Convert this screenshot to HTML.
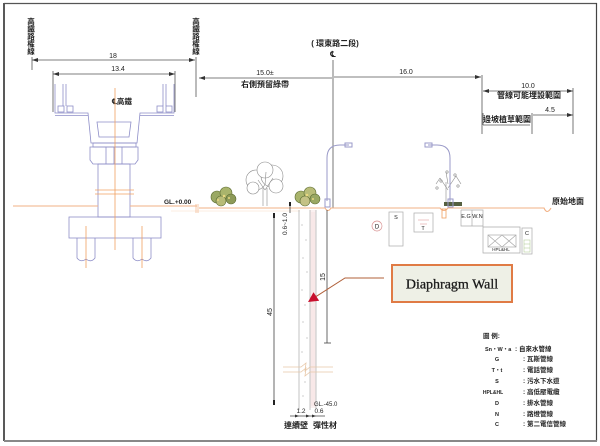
<!DOCTYPE html>
<html><head><meta charset="utf-8"><style>
html,body{margin:0;padding:0;background:#fff;}
svg{display:block;}
text{font-family:"Liberation Sans","Noto Sans CJK TC",sans-serif;fill:#222;}
.cj{font-family:"Liberation Sans","Noto Sans CJK TC",sans-serif;font-weight:bold;}
</style></head><body>
<svg width="600" height="446" viewBox="0 0 600 446" xmlns="http://www.w3.org/2000/svg">
<defs>
<marker id="ar" viewBox="0 0 6 4" refX="6" refY="2" markerWidth="6" markerHeight="4" markerUnits="userSpaceOnUse" orient="auto-start-reverse"><path d="M0,0 L6,2 L0,4 z" fill="#333"/></marker>
</defs>
<rect width="600" height="446" fill="#fff"/>
<!-- frame -->
<line x1="4" y1="3" x2="4" y2="441" stroke="#222" stroke-width="1.5"/>
<line x1="4" y1="3.5" x2="597" y2="3.5" stroke="#555" stroke-width="1.2"/>
<line x1="596.5" y1="3" x2="596.5" y2="441" stroke="#444" stroke-width="1.2"/>
<line x1="4" y1="441" x2="597" y2="441" stroke="#888" stroke-width="2"/>

<!-- vertical labels -->
<g class="cj" font-size="7.5" text-anchor="middle">
<text x="31" y="24">高</text><text x="31" y="31.5">鐵</text><text x="31" y="39">路</text><text x="31" y="46.5">權</text><text x="31" y="54">線</text>
<text x="196" y="24">高</text><text x="196" y="31.5">鐵</text><text x="196" y="39">路</text><text x="196" y="46.5">權</text><text x="196" y="54">線</text>
</g>

<!-- dims left -->
<g stroke="#555" stroke-width="0.8" fill="none">
<line x1="32" y1="57" x2="32" y2="70"/>
<line x1="196" y1="57" x2="196" y2="97"/>
<line x1="32" y1="60" x2="195" y2="60" marker-start="url(#ar)" marker-end="url(#ar)"/>
<line x1="53" y1="71" x2="53" y2="112"/>
<line x1="175" y1="71" x2="175" y2="112"/>
<line x1="53" y1="74" x2="175" y2="74" marker-start="url(#ar)" marker-end="url(#ar)"/>
<line x1="199" y1="78" x2="332" y2="78" marker-start="url(#ar)"/>
<line x1="333" y1="60" x2="333" y2="208"/>
<line x1="334" y1="77" x2="481" y2="77" marker-end="url(#ar)"/>
<line x1="482" y1="75" x2="482" y2="134"/>
<line x1="483" y1="91" x2="573" y2="91" marker-start="url(#ar)" marker-end="url(#ar)"/>
<line x1="573" y1="88" x2="573" y2="134"/>
<line x1="532" y1="113" x2="532" y2="134"/>
<line x1="533" y1="115" x2="573" y2="115" marker-end="url(#ar)"/>
<line x1="483" y1="113" x2="483" y2="125"/>
<line x1="483" y1="125" x2="530" y2="125"/>
</g>
<g font-size="7" text-anchor="middle">
<text x="113" y="58">18</text>
<text x="118" y="71">13.4</text>
<text x="265" y="75">15.0±</text>
<text x="406" y="74">16.0</text>
<text x="528" y="88">10.0</text>
<text x="550" y="112">4.5</text>
</g>
<g class="cj" font-size="8" text-anchor="middle">
<text x="265" y="87">右側預留綠帶</text>
<text x="529" y="98">管線可能埋設範圍</text>
<text x="507" y="122">邊坡植草範圍</text>
<text x="335" y="46">( 環東路二段)</text>
<text x="333" y="57" font-size="8">℄</text>
<text x="122" y="104" font-size="7.5">℄高鐵</text>
<text x="568" y="204">原始地面</text>
</g>

<!-- bridge -->
<g stroke="#8e8ec8" stroke-width="0.8" fill="none">
<path d="M55 84 V113 H88 L91 143 H137 L140 113 H174 V84"/>
<line x1="55" y1="115.5" x2="88" y2="115.5"/>
<line x1="140" y1="115.5" x2="174" y2="115.5"/>
<line x1="63" y1="84" x2="63" y2="106"/><line x1="66" y1="84" x2="66" y2="106"/>
<line x1="163" y1="84" x2="163" y2="106"/><line x1="166" y1="84" x2="166" y2="106"/>
<rect x="58" y="106" width="6" height="6"/><rect x="67" y="106" width="6" height="6"/>
<rect x="157" y="106" width="6" height="6"/><rect x="166" y="106" width="6" height="6"/>
<path d="M97 122 H131 L129 137 H99 Z"/>
<rect x="93" y="143" width="43" height="4"/>
<path d="M90 147 H138 V160 L135 164 H93 L90 160 Z"/>
<line x1="106" y1="147" x2="106" y2="164"/><line x1="114" y1="147" x2="114" y2="164"/><line x1="122" y1="147" x2="122" y2="164"/>
<rect x="98" y="164" width="32" height="53"/>
<rect x="69" y="217" width="92" height="21"/>
<path d="M77 238 V258 Q81 263 86 259 Q91 263 95 258 V238"/>
<path d="M133 238 V258 Q137 263 142 259 Q147 263 151 258 V238"/>
</g>
<g stroke="#f0a060" stroke-width="0.8" fill="none">
<line x1="115" y1="88" x2="115" y2="250"/>
<line x1="95" y1="190" x2="134" y2="190"/>
<line x1="95" y1="194" x2="134" y2="194"/>
<line x1="86" y1="226" x2="86" y2="268"/>
<line x1="142" y1="226" x2="142" y2="268"/>
</g>

<!-- ground -->
<g stroke="#f2b286" stroke-width="1.1" fill="none">
<line x1="13" y1="206" x2="98" y2="206"/>
<line x1="130" y1="206" x2="197" y2="206"/>
<path d="M199 208 H325 Q328 213 331 208 H440 Q444 213 448 208 H544 Q547 215 551 208"/>
<line x1="171" y1="211" x2="300" y2="211" stroke="#f8dcc4" stroke-width="0.5"/>
<line x1="196" y1="204" x2="196" y2="213" stroke-width="0.7"/>
<line x1="198" y1="204" x2="198" y2="213" stroke-width="0.7"/>
</g>
<text x="164" y="204" font-size="6.5" font-weight="bold">GL.+0.00</text>

<!-- trees -->
<g stroke="#5a6a30" stroke-width="0.6">
<circle cx="217" cy="197" r="6" fill="#9aa864"/>
<circle cx="226" cy="193" r="6" fill="#a9b46c"/>
<circle cx="231" cy="199" r="5" fill="#8d9a58"/>
<circle cx="221" cy="201" r="5" fill="#b8bc78"/>
<circle cx="301" cy="197" r="6" fill="#a9b46c"/>
<circle cx="310" cy="193" r="6" fill="#b8bc78"/>
<circle cx="315" cy="199" r="5" fill="#9aa864"/>
<circle cx="305" cy="201" r="5" fill="#c4c286"/>
</g>
<g fill="#e8d880"><circle cx="224" cy="196" r="1.3"/><circle cx="218" cy="200" r="1"/><circle cx="229" cy="198" r="1"/><circle cx="307" cy="195" r="1.3"/><circle cx="313" cy="199" r="1"/></g>
<g stroke="#8a8a8a" stroke-width="0.6" fill="#fff">
<circle cx="256" cy="180" r="10"/><circle cx="272" cy="176" r="11"/><circle cx="265" cy="170" r="8"/><circle cx="276" cy="186" r="7"/><circle cx="253" cy="188" r="6"/>
<path d="M263 206 V188 M267 206 V188 M265 190 L258 180 M265 190 L273 178 M265 185 L266 172" fill="none"/>
</g>
<g stroke="#8a8a8a" stroke-width="0.6" fill="none">
<path d="M446 203 V182 M450 203 V182 M448 190 L440 178 M448 188 L456 176 M448 184 L446 172 M440 178 L436 184 M456 176 L461 184"/>
<circle cx="441" cy="181" r="1.2"/><circle cx="455" cy="175" r="1.2"/><circle cx="458" cy="186" r="1.2"/><circle cx="437" cy="188" r="1.2"/><circle cx="447" cy="172" r="1.2"/>
</g>
<rect x="444" y="202" width="18" height="4" fill="#556040"/>

<!-- lamps -->
<g stroke="#9a9ac8" stroke-width="1" fill="none">
<path d="M327 201 V158 Q327 145 340 145 H349"/>
<rect x="325" y="199" width="5" height="8"/>
<path d="M345 143 H352 V147 H345 Z"/>
<path d="M450 201 V158 Q450 145 437 145 H428"/>
<rect x="448" y="199" width="5" height="8"/>
<path d="M425 143 H432 V147 H425 Z"/>
</g>

<!-- diaphragm wall -->
<rect x="310" y="210" width="6" height="198" fill="#faf0f0"/>
<g stroke="#aaa" stroke-width="0.7" fill="none">
<line x1="299" y1="210" x2="299" y2="410"/>
<line x1="310" y1="210" x2="310" y2="410"/>
<line x1="316" y1="210" x2="316" y2="408"/>
</g>
<g stroke="#efc8c8" stroke-width="0.4"><line x1="312" y1="212" x2="312" y2="406"/><line x1="314" y1="212" x2="314" y2="406"/></g>
<g fill="#aaa">
<circle cx="302" cy="225" r="0.6"/><circle cx="306" cy="240" r="0.6"/><circle cx="303" cy="258" r="0.6"/><circle cx="307" cy="272" r="0.6"/><circle cx="302" cy="290" r="0.6"/><circle cx="305" cy="305" r="0.6"/><circle cx="303" cy="322" r="0.6"/><circle cx="307" cy="338" r="0.6"/><circle cx="302" cy="352" r="0.6"/><circle cx="305" cy="382" r="0.6"/><circle cx="303" cy="396" r="0.6"/>
</g>
<g stroke="#444" stroke-width="0.8" fill="none">
<line x1="274" y1="213" x2="274" y2="405"/>
<line x1="327" y1="210" x2="327" y2="343"/>
<line x1="290" y1="202" x2="290" y2="213"/>
</g>
<g stroke="#222" stroke-width="2"><line x1="274" y1="213" x2="274" y2="218"/><line x1="274" y1="400" x2="274" y2="405"/><line x1="290" y1="202" x2="290" y2="206"/></g>
<line x1="324" y1="343" x2="331" y2="343" stroke="#444" stroke-width="0.8"/>
<g stroke="#e8c8a8" stroke-width="0.8" fill="none">
<path d="M283 367 H301 L306 363 L305 371 L310 367 H333"/>
<path d="M283 372 H301 L306 368 L305 376 L310 372 H333"/>
</g>
<g font-size="7" text-anchor="middle">
<text transform="translate(272,312) rotate(-90)">45</text>
<text transform="translate(325,277) rotate(-90)">15</text>
<text transform="translate(287,224) rotate(-90)" font-size="6.5">0.6~1.0</text>
</g>
<text x="314" y="406" font-size="6">GL.-45.0</text>
<text x="301" y="413" font-size="6.5" text-anchor="middle">1.2</text>
<text x="319" y="413" font-size="6.5" text-anchor="middle">0.6</text>
<line x1="290" y1="416" x2="325" y2="416" stroke="#444" stroke-width="0.7"/>
<g fill="#333"><path d="M299 416 l-4 -1.5 v3 z"/><path d="M310 416 l-4 -1.5 v3 z"/><path d="M316 416 l-4 -1.5 v3 z"/></g>
<text class="cj" x="296" y="428" font-size="8" text-anchor="middle">連續壁</text>
<text class="cj" x="325" y="428" font-size="8" text-anchor="middle">彈性材</text>

<!-- callout -->
<polyline points="384,278 345,278 316,296.6" fill="none" stroke="#b0603a" stroke-width="1"/>
<polygon points="308,302 313.5,292.3 319.2,300.8" fill="#c8102e"/>
<rect x="392" y="265" width="120" height="37" fill="#eef0e6" stroke="#e07b45" stroke-width="2"/>
<text x="452" y="288.5" font-size="14" text-anchor="middle" stroke="#1a1a1a" stroke-width="0.3" style="font-family:'Liberation Serif',serif;fill:#1a1a1a;">Diaphragm Wall</text>

<!-- utilities -->
<circle cx="377" cy="226" r="5" fill="none" stroke="#d89090" stroke-width="0.7"/>
<text x="377" y="228.5" font-size="6" text-anchor="middle">D</text>
<g stroke="#aaa" stroke-width="0.7" fill="none">
<rect x="389" y="212" width="14" height="34"/>
<rect x="414" y="213" width="19" height="19"/>
<path d="M461 210 H483 V227 H520 V253 H483 V227 M461 210 V226 H483"/>
<line x1="472" y1="210" x2="472" y2="226"/>
<rect x="522" y="228" width="10" height="26"/>
<rect x="488" y="235" width="28" height="12"/>
<path d="M488 235 L502 247 M502 235 L488 247 M502 235 L516 247 M516 235 L502 247"/>
</g>
<g stroke="#e0a0a0" stroke-width="0.6"><line x1="418" y1="220" x2="429" y2="220"/><line x1="420" y1="224" x2="427" y2="224"/></g>
<g stroke="#b8d0a0" stroke-width="0.6" fill="none"><rect x="524" y="240" width="6" height="12"/><line x1="524" y1="244" x2="530" y2="244"/><line x1="524" y1="248" x2="530" y2="248"/></g>
<rect x="442" y="209" width="4" height="9" fill="none" stroke="#f0a060" stroke-width="0.8"/>
<g font-size="5.5" text-anchor="middle">
<text x="396" y="219">S</text>
<text x="423" y="230">T</text>
<text x="472" y="218">E.G  W.N</text>
<text x="501" y="251" font-size="4.5">HPL&amp;HL</text>
<text x="527" y="235">C</text>
</g>

<!-- legend -->
<g class="cj" font-size="6.5">
<text x="483" y="338">圖 例:</text>
<text x="485" y="351" font-size="5.5">Sn・W・a</text><text x="515" y="351">: 自來水管線</text>
<text x="497" y="361" text-anchor="middle" font-size="5.5">G</text><text x="523" y="361">: 瓦斯管線</text>
<text x="497" y="372" text-anchor="middle" font-size="5.5">T・t</text><text x="523" y="372">: 電話管線</text>
<text x="497" y="383" text-anchor="middle" font-size="5.5">S</text><text x="523" y="383">: 污水下水道</text>
<text x="493" y="394" text-anchor="middle" font-size="5">HPL&amp;HL</text><text x="523" y="394">: 高低壓電纜</text>
<text x="497" y="405" text-anchor="middle" font-size="5.5">D</text><text x="523" y="405">: 排水管線</text>
<text x="497" y="416" text-anchor="middle" font-size="5.5">N</text><text x="523" y="416">: 路燈管線</text>
<text x="497" y="426" text-anchor="middle" font-size="5.5">C</text><text x="523" y="426">: 第二電信管線</text>
</g>
</svg>
</body></html>
